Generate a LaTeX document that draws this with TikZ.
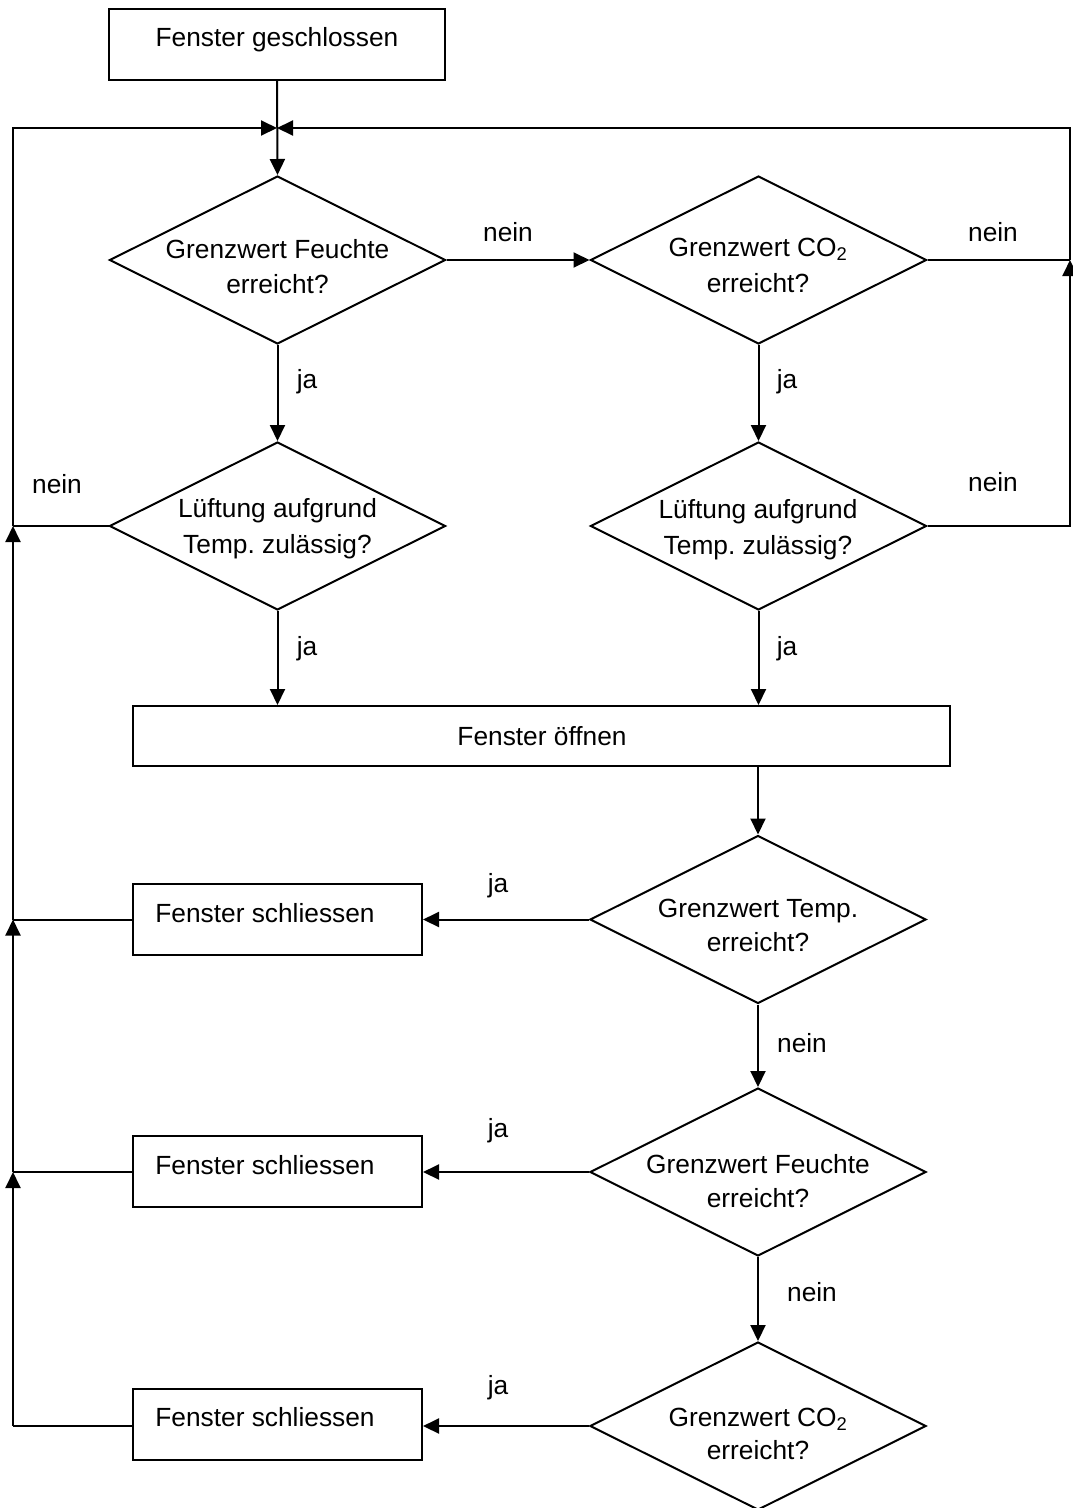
\documentclass[tikz,border=0pt]{standalone}
\usepackage{fontspec}
\setmainfont{Liberation Sans}
\usetikzlibrary{shapes.geometric,arrows.meta}
\frenchspacing
\begin{document}
\begin{tikzpicture}[x=1pt,y=-1pt,
  txt/.style={font=\fontsize{26.3pt}{35pt}\selectfont, inner sep=0pt},
  dia/.style={draw, line width=2pt, shape=diamond, minimum width=336pt, minimum height=168pt, inner sep=0pt},
  boxn/.style={draw, line width=2pt, rectangle, inner sep=0pt},
  conn/.style={line width=2pt},
  arr/.style={line width=2pt, -{Triangle[length=16pt,width=15pt]}}
]
\useasboundingbox (0,0) rectangle (1072,1508);
% boxes
\node[boxn, minimum width=336pt, minimum height=71pt] (b1) at (277,44.5) {};
\node[txt] (b1t) at (277,40) {Fenster geschlossen};
\node[boxn, minimum width=817pt, minimum height=60pt] (b2) at (541.5,736) {};
\node[txt] (b2t) at (542,736) {Fenster öffnen};
\node[boxn, minimum width=289pt, minimum height=71pt] (s1) at (277.5,919.5) {};
\node[txt] (s1t) at (265,913) {Fenster schliessen};
\node[boxn, minimum width=289pt, minimum height=71pt] (s2) at (277.5,1171.5) {};
\node[txt] (s2t) at (265,1165) {Fenster schliessen};
\node[boxn, minimum width=289pt, minimum height=71pt] (s3) at (277.5,1424) {};
\node[txt] (s3t) at (265,1417) {Fenster schliessen};
% diamonds
\node[dia] (d1) at (277.5,260) {};
\node[txt, anchor=base] (d1a) at (277.5,258) {Grenzwert Feuchte};
\node[txt, anchor=base] (d1b) at (277.5,293) {erreicht?};
\node[dia] (d2) at (758.5,260) {};
\node[txt, anchor=base] (d2a) at (758,256) {Grenzwert CO\textsubscript{2}};
\node[txt, anchor=base] (d2b) at (758,292) {erreicht?};
\node[dia] (d3) at (277.5,526) {};
\node[txt, anchor=base] (d3a) at (277.5,517) {Lüftung aufgrund};
\node[txt, anchor=base] (d3b) at (277.5,553) {Temp. zulässig?};
\node[dia] (d4) at (758.5,526) {};
\node[txt, anchor=base] (d4a) at (758,518) {Lüftung aufgrund};
\node[txt, anchor=base] (d4b) at (758,554) {Temp. zulässig?};
\node[dia] (d5) at (758,919.5) {};
\node[txt, anchor=base] (d5a) at (758,917) {Grenzwert Temp.};
\node[txt, anchor=base] (d5b) at (758,951) {erreicht?};
\node[dia] (d6) at (758,1172) {};
\node[txt, anchor=base] (d6a) at (758,1173) {Grenzwert Feuchte};
\node[txt, anchor=base] (d6b) at (758,1207) {erreicht?};
\node[dia] (d7) at (758,1426) {};
\node[txt, anchor=base] (d7a) at (758,1426) {Grenzwert CO\textsubscript{2}};
\node[txt, anchor=base] (d7b) at (758,1459) {erreicht?};
% coordinates
\coordinate (J) at (277,128);
\coordinate (LT) at (13,128);
\coordinate (L0) at (13,526);
\coordinate (L1) at (13,919.5);
\coordinate (L2) at (13,1172);
\coordinate (L3) at (13,1426);
\coordinate (RT) at (1070,128);
\coordinate (R1) at (1070,260);
\coordinate (R2) at (1070,526);
% connectors
\draw[arr] (b1.south) -- (d1.north);
\draw[arr] (d1.east) -- (d2.west);
\draw[arr] (d1.south) -- (d3.north);
\draw[arr] (d2.south) -- (d4.north);
\draw[arr] (d3.south) -- (d3.south |- b2.north);
\draw[arr] (d4.south) -- (d4.south |- b2.north);
\draw[arr] (b2.south -| d5.north) -- (d5.north);
\draw[arr] (d5.south) -- (d6.north);
\draw[arr] (d6.south) -- (d7.north);
\draw[arr] (d5.west) -- (d5.west -| s1.east);
\draw[arr] (d6.west) -- (d6.west -| s2.east);
\draw[arr] (d7.west) -- (d7.west -| s3.east);
% right loop
\draw[conn] (d2.east) -- (R1);
\draw[arr] (R1) -- (RT) -- (J);
\draw[arr] (d4.east) -- (R2) -- (R1);
% left loop
\draw[conn] (s3.west |- L3) -- (L3);
\draw[arr] (L3) -- (L2);
\draw[conn] (s2.west |- L2) -- (L2);
\draw[arr] (L2) -- (L1);
\draw[conn] (s1.west |- L1) -- (L1);
\draw[arr] (L1) -- (L0);
\draw[conn] (d3.west) -- (L0);
\draw[arr] (L0) -- (LT) -- (J);
% labels
\node[txt] (n1) at (508,232) {nein};
\node[txt] (n2) at (993,232) {nein};
\node[txt] (j1) at (307,382) {ja};
\node[txt] (j2) at (787,382) {ja};
\node[txt] (n3) at (57,484) {nein};
\node[txt] (n4) at (993,482) {nein};
\node[txt] (j3) at (307,649) {ja};
\node[txt] (j4) at (787,649) {ja};
\node[txt] (j5) at (498,886) {ja};
\node[txt] (n5) at (802,1043) {nein};
\node[txt] (j6) at (498,1131) {ja};
\node[txt] (n6) at (812,1292) {nein};
\node[txt] (j7) at (498,1388) {ja};
\end{tikzpicture}
\end{document}
